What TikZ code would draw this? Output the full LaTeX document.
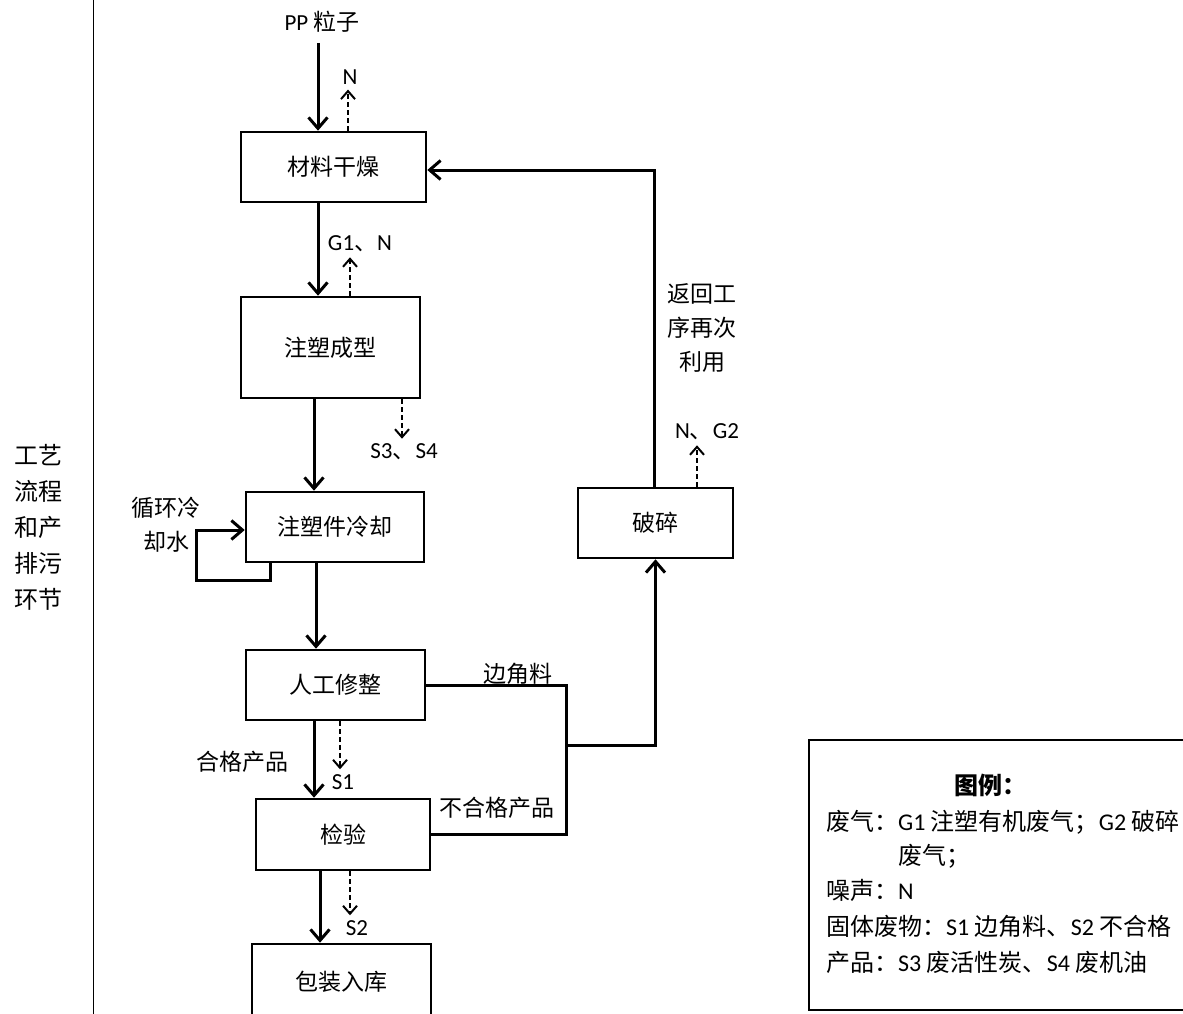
\documentclass[tikz,border=0pt]{standalone}
\usepackage{fontspec}
\setmainfont{Carlito}
\newfontfamily\cjk{Noto Sans CJK SC}
\usetikzlibrary{arrows.meta,calc}
\newcommand\zh[1]{{\cjk #1}}
\begin{document}
\begin{tikzpicture}[x=1pt,y=-1pt,
  box/.style={draw,line width=2.6pt,inner sep=0pt,font=\fontsize{23}{28}\selectfont\cjk},
  flow/.style={line width=3pt,-{Straight Barb[length=11pt,width=19pt,line width=3pt]}},
  plain/.style={line width=3pt},
  emis/.style={line width=2pt,dash pattern=on 5pt off 3pt,shorten >=5pt,-{Straight Barb[length=8pt,width=14pt,line width=2pt]}},
  lbl/.style={inner sep=0pt,font=\fontsize{23}{33}\selectfont,align=center},
  zlbl/.style={inner sep=0pt,font=\fontsize{23}{34}\selectfont\cjk,align=center},
  leg/.style={inner sep=0pt,anchor=west,font=\fontsize{24}{30}\selectfont}]
\useasboundingbox (0,0) rectangle (1183,1014);
% left column
\draw[line width=1pt] (93,0) -- (93,1014);
\node[zlbl,font=\fontsize{24}{36}\selectfont\cjk] (side) at (38,527) {工艺\\流程\\和产\\排污\\环节};
% boxes
\node[box,minimum width=185,minimum height=70] (dry) at (333.5,167) {材料干燥};
\node[box,minimum width=179,minimum height=101] (mold) at (330.5,347.5) {注塑成型};
\node[box,minimum width=178,minimum height=70] (cool) at (335,527) {注塑件冷却};
\node[box,minimum width=179,minimum height=70] (trim) at (335.5,685) {人工修整};
\node[box,minimum width=174,minimum height=71] (insp) at (343,834.5) {检验};
\node[box,minimum width=179,minimum height=76] (pack) at (341.5,982) {包装入库};
\node[box,minimum width=155,minimum height=70] (crush) at (655.5,523) {破碎};
% labels
\node[lbl] (pp) at (322,22) {PP \zh{粒子}};
\node[lbl] (n1) at (350,77) {N};
\node[lbl] (g1n) at (360,244) {G1\zh{、}N};
\node[lbl] (s34) at (404,452) {S3\zh{、}S4};
\node[zlbl] (water) at (166,525) {循环冷\\却水};
\node[zlbl] (edge) at (518,674) {边角料};
\node[zlbl] (bad) at (497,808) {不合格产品};
\node[zlbl] (good) at (242,762) {合格产品};
\node[lbl] (s1) at (343,782) {S1};
\node[lbl] (s2) at (357,928) {S2};
\node[lbl] (ng2) at (707,432) {N\zh{、}G2};
\node[zlbl] (ret) at (702,328) {返回工\\序再次\\利用};
% main flow
\draw[flow] (pp.south -| 318,0) ++(0,10) -- (dry.north -| 318,0);
\draw[flow] (dry.south -| 318,0) -- (mold.north -| 318,0);
\draw[flow] (mold.south -| 314,0) -- (cool.north -| 314,0);
\draw[flow] (cool.south -| 316,0) -- (trim.north -| 316,0);
\draw[flow] (trim.south -| 314,0) -- (insp.north -| 314,0);
\draw[flow] (insp.south -| 320,0) -- (pack.north -| 320,0);
% emissions
\draw[emis] (dry.north -| 348,0) -- (n1.south -| 348,0);
\draw[emis] (mold.north -| 350,0) -- (g1n.south -| 350,0);
\draw[emis] (mold.south -| 402,0) -- (s34.north -| 402,0);
\draw[emis] (trim.south -| 340,0) -- (s1.north -| 340,0);
\draw[emis] (insp.south -| 350,0) -- (s2.north -| 350,0);
\draw[emis] (crush.north -| 697,0) -- (ng2.south -| 697,0);
% cooling water loop
\coordinate (lpA) at (270,580);
\coordinate (lpB) at (196,580);
\coordinate (lpC) at (196,530);
\draw[flow] (cool.south -| lpA) -- (lpA) -- (lpB) -- (lpC) -- (cool.west |- lpC);
% scrap lines
\coordinate (rx) at (566,745);
\draw[plain] (trim.east) -- (trim.east -| rx) -- (insp.east -| rx) -- (insp.east);
\draw[flow] (rx) -| (crush.south);
% return line
\coordinate (up) at (654,170);
\draw[flow] (crush.north -| up) -- (up) -- (dry.east |- up);
% legend
\draw[line width=2pt] (809,740) rectangle (1190,1010);
\node[inner sep=0pt,font=\fontsize{24}{30}\selectfont\cjk\bfseries] (legt) at (990,785) {图例：};
\node[leg] (l1) at (826,822) {\zh{废气：}G1 \zh{注塑有机废气；}G2 \zh{破碎}};
\node[leg] (l2) at (898,856) {\zh{废气；}};
\node[leg] (l3) at (826,890) {\zh{噪声：}N};
\node[leg] (l4) at (826,926) {\zh{固体废物：}S1 \zh{边角料、}S2 \zh{不合格}};
\node[leg] (l5) at (826,962) {\zh{产品：}S3 \zh{废活性炭、}S4 \zh{废机油}};
\end{tikzpicture}
\end{document}
